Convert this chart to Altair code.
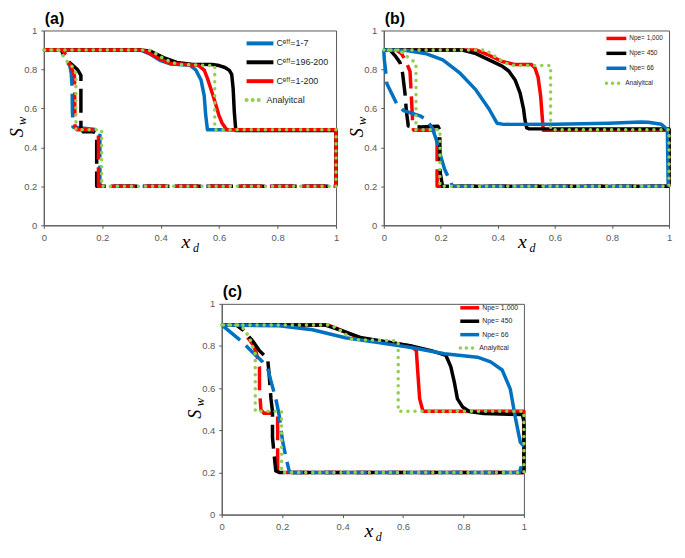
import altair as alt
import pandas as pd

# ---------------- colours ----------------
BLUE, BLACK, RED, GREEN = "#0070C0", "#000000", "#FF0000", "#92D050"

# ---------------- panel (a) ----------------
a_names = ["Cᵉᶠᶠ=1-7", "Cᵉᶠᶠ=196-200", "Cᵉᶠᶠ=1-200", "Analyitcal"]
a_colors = [BLUE, BLACK, RED, GREEN]

a_blue_solid_x = [0, 0.33, 0.366, 0.40, 0.435, 0.50, 0.52, 0.538, 0.549, 0.554, 0.56, 1.0, 1.0]
a_blue_solid_y = [0.9, 0.9, 0.877, 0.845, 0.828, 0.822, 0.798, 0.746, 0.664, 0.566, 0.49, 0.49, 0.2]
a_black_solid_x = [0, 0.33, 0.366, 0.41, 0.455, 0.51, 0.576, 0.60, 0.62, 0.635, 0.643, 0.648, 0.652, 0.657, 1.0, 1.0]
a_black_solid_y = [0.9, 0.9, 0.893, 0.861, 0.836, 0.826, 0.825, 0.82, 0.81, 0.795, 0.775, 0.70, 0.58, 0.487, 0.487, 0.2]
a_red_solid_x = [0, 0.34, 0.388, 0.432, 0.488, 0.53, 0.549, 0.56, 0.576, 0.588, 0.599, 0.61, 0.626, 1.0, 1.0]
a_red_solid_y = [0.9, 0.9, 0.861, 0.831, 0.825, 0.82, 0.797, 0.754, 0.68, 0.623, 0.566, 0.525, 0.49, 0.49, 0.2]

a_blue_dash_x = [0, 0.06, 0.077, 0.089, 0.094, 0.097, 0.098, 0.10, 0.13, 0.19, 0.192, 0.192, 1.0]
a_blue_dash_y = [0.9, 0.9, 0.844, 0.819, 0.778, 0.70, 0.58, 0.505, 0.50, 0.49, 0.48, 0.2, 0.2]
a_black_dash_x = [0, 0.06, 0.077, 0.10, 0.115, 0.127, 0.127, 0.135, 0.17, 0.181, 0.181, 1.0]
a_black_dash_y = [0.9, 0.9, 0.85, 0.82, 0.80, 0.77, 0.50, 0.48, 0.48, 0.47, 0.2, 0.2]
a_red_dash_x = [0, 0.06, 0.072, 0.083, 0.094, 0.105, 0.107, 0.115, 0.165, 0.187, 0.187, 1.0]
a_red_dash_y = [0.9, 0.9, 0.885, 0.844, 0.811, 0.77, 0.50, 0.49, 0.49, 0.48, 0.2, 0.2]

a_ana_x = [0, 0.36, 0.385, 0.41, 0.44, 0.47, 0.585, 0.585, 1.0, 1.0, 0.198, 0.198, 0.11, 0.11, 0.095, 0.077, 0.062, 0.05, 0]
a_ana_y = [0.9, 0.9, 0.88, 0.855, 0.835, 0.825, 0.82, 0.49, 0.49, 0.2, 0.2, 0.49, 0.49, 0.78, 0.82, 0.845, 0.88, 0.9, 0.9]

# ---------------- panel (b) ----------------
b_names = ["Npe= 1,000", "Npe= 450", "Npe= 66", "Analyitcal"]
b_colors = [RED, BLACK, BLUE, GREEN]

b_red_solid_x = [0, 0.323, 0.369, 0.415, 0.461, 0.518, 0.53, 0.541, 0.55, 0.555, 0.559, 1.0, 1.0]
b_red_solid_y = [0.9, 0.9, 0.873, 0.841, 0.825, 0.825, 0.808, 0.76, 0.662, 0.565, 0.488, 0.488, 0.2]
b_black_solid_x = [0, 0.276, 0.323, 0.369, 0.415, 0.438, 0.461, 0.478, 0.49, 0.495, 0.501, 0.51, 1.0, 1.0]
b_black_solid_y = [0.9, 0.9, 0.881, 0.849, 0.817, 0.792, 0.744, 0.679, 0.597, 0.541, 0.50, 0.495, 0.495, 0.2]
b_blue_solid_x = [0, 0.08, 0.15, 0.207, 0.265, 0.323, 0.369, 0.397, 0.42, 0.60, 0.789, 0.90, 0.927, 0.973, 0.994, 0.997]
b_blue_solid_y = [0.9, 0.897, 0.88, 0.849, 0.784, 0.695, 0.597, 0.524, 0.518, 0.519, 0.524, 0.53, 0.529, 0.519, 0.492, 0.2]

b_red_dash_x = [0, 0.046, 0.063, 0.08, 0.092, 0.098, 0.101, 0.104, 0.106, 0.15, 0.184, 0.187, 0.187, 1.0]
b_red_dash_y = [0.9, 0.898, 0.88, 0.833, 0.79, 0.63, 0.532, 0.49, 0.488, 0.488, 0.488, 0.47, 0.2, 0.2]
b_black_dash_x = [0, 0.023, 0.04, 0.057, 0.066, 0.075, 0.079, 0.086, 0.13, 0.19, 0.196, 0.198, 0.206, 1.0]
b_black_dash_y = [0.9, 0.898, 0.87, 0.835, 0.78, 0.67, 0.59, 0.51, 0.505, 0.508, 0.49, 0.27, 0.2, 0.2]
b_blue_dash_x = [0, 0.002, 0.006, 0.011, 0.03, 0.046, 0.069, 0.10, 0.13, 0.15, 0.17, 0.185, 0.20, 0.213, 0.236, 0.242, 1.0]
b_blue_dash_y = [0.9, 0.85, 0.80, 0.727, 0.67, 0.622, 0.589, 0.575, 0.56, 0.541, 0.50, 0.435, 0.354, 0.289, 0.216, 0.2, 0.2]

b_ana_x = [0, 0.357, 0.392, 0.426, 0.449, 0.585, 0.585, 1.0, 1.0, 0.197, 0.197, 0.113, 0.113, 0.098, 0.075, 0.057, 0]
b_ana_y = [0.9, 0.9, 0.865, 0.833, 0.821, 0.82, 0.49, 0.49, 0.2, 0.2, 0.49, 0.49, 0.833, 0.849, 0.873, 0.898, 0.9]

# ---------------- panel (c) ----------------
c_names = ["Npe= 1,000", "Npe= 450", "Npe= 66", "Analyitcal"]
c_colors = [RED, BLACK, BLUE, GREEN]

c_red_solid_x = [0, 0.35, 0.38, 0.463, 0.562, 0.627, 0.644, 0.649, 0.655, 0.666, 1.0, 1.0]
c_red_solid_y = [0.9, 0.9, 0.884, 0.835, 0.816, 0.80, 0.778, 0.671, 0.549, 0.49, 0.49, 0.2]
c_black_solid_x = [0, 0.34, 0.376, 0.463, 0.562, 0.627, 0.693, 0.742, 0.758, 0.77, 0.78, 0.797, 0.819, 0.868, 0.995, 1.0, 1.0]
c_black_solid_y = [0.9, 0.9, 0.884, 0.839, 0.816, 0.80, 0.778, 0.755, 0.702, 0.626, 0.549, 0.511, 0.489, 0.479, 0.475, 0.44, 0.2]
c_blue_solid_x = [0, 0.19, 0.30, 0.409, 0.518, 0.627, 0.737, 0.846, 0.89, 0.928, 0.955, 0.972, 0.988, 1.0]
c_blue_solid_y = [0.9, 0.896, 0.877, 0.839, 0.816, 0.793, 0.763, 0.747, 0.725, 0.686, 0.595, 0.458, 0.344, 0.324]

c_red_dash_x = [0, 0.048, 0.07, 0.086, 0.103, 0.114, 0.125, 0.125, 0.13, 0.14, 0.179, 0.185, 0.185, 1.0]
c_red_dash_y = [0.9, 0.9, 0.877, 0.839, 0.808, 0.77, 0.702, 0.588, 0.496, 0.481, 0.481, 0.47, 0.2, 0.2]
c_black_dash_x = [0, 0.048, 0.07, 0.103, 0.125, 0.152, 0.157, 0.163, 0.168, 0.168, 0.174, 0.179, 0.19, 1.0]
c_black_dash_y = [0.9, 0.9, 0.877, 0.823, 0.777, 0.74, 0.663, 0.549, 0.489, 0.367, 0.275, 0.207, 0.2, 0.2]
c_blue_dash_x = [0, 0.065, 0.092, 0.135, 0.152, 0.163, 0.179, 0.19, 0.201, 0.212, 0.223, 0.23, 0.985, 1.0]
c_blue_dash_y = [0.9, 0.823, 0.785, 0.725, 0.694, 0.633, 0.549, 0.473, 0.352, 0.275, 0.207, 0.2, 0.2, 0.27]

c_ana_x = [0, 0.36, 0.398, 0.431, 0.584, 0.584, 1.0, 1.0, 0.198, 0.198, 0.111, 0.111, 0.092, 0.075, 0.06, 0]
c_ana_y = [0.9, 0.9, 0.869, 0.831, 0.824, 0.49, 0.49, 0.2, 0.2, 0.49, 0.49, 0.763, 0.839, 0.877, 0.9, 0.9]

ticks = [0, 0.2, 0.4, 0.6, 0.8, 1]

LABEL_FONT = "Liberation Sans"
MATH_FONT = "Liberation Serif"
DASH = [24, 8]
DOT = [0.1, 7]
LW = 3.5


def to_df(name, xs, ys):
    return pd.DataFrame({"series": name, "i": list(range(len(xs))), "x": xs, "y": ys})


def panel(tag, names, colors, sims, ana, W, H, leg):
    xsc = alt.Scale(domain=[0, 1], nice=False, zero=False)
    ysc = alt.Scale(domain=[0, 1], nice=False, zero=False)
    xax = alt.Axis(values=ticks, format="~g", title=None, grid=False, labelFlush=False)
    yax = alt.Axis(values=ticks, format="~g", title=None, grid=False, labelFlush=False)

    def enc(ch, col):
        return ch.encode(
            x=alt.X("x:Q", scale=xsc, axis=xax),
            y=alt.Y("y:Q", scale=ysc, axis=yax),
            color=alt.value(col),
            order=alt.Order("i:Q"),
        )

    layers = []
    for (name, sx, sy, dx, dy), col in zip(sims, colors):
        layers.append(enc(alt.Chart(to_df(name, sx, sy)).mark_line(
            strokeWidth=LW, strokeJoin="round", strokeCap="butt", clip=False), col))
        layers.append(enc(alt.Chart(to_df(name, dx, dy)).mark_line(
            strokeWidth=LW, strokeJoin="round", strokeCap="butt", strokeDash=DASH, clip=False), col))
    layers.append(enc(alt.Chart(to_df(names[3], ana[0], ana[1])).mark_line(
        strokeWidth=LW, strokeCap="round", strokeDash=DOT, clip=False), colors[3]))

    one = alt.InlineData(values=[{"k": 0}])

    def txt(s, x, y, size, font, style="normal", angle=0, color="black", align="center", weight="normal"):
        return alt.Chart(one).mark_text(
            text=s, font=font, fontSize=size, fontStyle=style, angle=angle, color=color,
            align=align, baseline="middle", fontWeight=weight,
        ).encode(x=alt.value(x), y=alt.value(y))

    # panel tag
    layers.append(txt(tag, 1, -12, 16, LABEL_FONT, weight="bold", align="left"))
    # axis titles (S_w, x_d) with subscripts
    layers.append(txt("S", -26, H / 2 + 5, 18, MATH_FONT, "italic", 270))
    layers.append(txt("w", -22, H / 2 - 7, 13, MATH_FONT, "italic", 270))
    layers.append(txt("x", W / 2 - 4, H + 17, 20, MATH_FONT, "italic"))
    layers.append(txt("d", W / 2 + 6, H + 23, 12, MATH_FONT, "italic"))

    # manual legend
    lx, ly, dyy, fs, Ls, Ld, sw = leg
    for k, (nm, col) in enumerate(zip(names, colors)):
        yy = ly + k * dyy
        is_dot = k == 3
        L = Ld if is_dot else Ls
        kw = dict(strokeWidth=sw, strokeCap="round" if is_dot else "butt")
        if is_dot:
            kw["strokeDash"] = [0.1, 6]
        layers.append(alt.Chart(one).mark_rule(**kw).encode(
            x=alt.value(lx), x2=alt.value(lx + L), y=alt.value(yy), color=alt.value(col)))
        layers.append(txt(nm, lx + L + 3, yy, fs, LABEL_FONT, align="left", color="#262626"))

    return alt.layer(*layers).properties(width=W, height=H)


WA, HA = 294, 196
WB, HB = 287, 196
WC, HC = 304, 212

pa = panel("(a)", a_names, a_colors,
           [(a_names[0], a_blue_solid_x, a_blue_solid_y, a_blue_dash_x, a_blue_dash_y),
            (a_names[1], a_black_solid_x, a_black_solid_y, a_black_dash_x, a_black_dash_y),
            (a_names[2], a_red_solid_x, a_red_solid_y, a_red_dash_x, a_red_dash_y)],
           (a_ana_x, a_ana_y), WA, HA, (WA - 90, 13, 19, 9, 27, 17, 4))

pb = panel("(b)", b_names, b_colors,
           [(b_names[0], b_red_solid_x, b_red_solid_y, b_red_dash_x, b_red_dash_y),
            (b_names[1], b_black_solid_x, b_black_solid_y, b_black_dash_x, b_black_dash_y),
            (b_names[2], b_blue_solid_x, b_blue_solid_y, b_blue_dash_x, b_blue_dash_y)],
           (b_ana_x, b_ana_y), WB, HB, (WB - 63, 8, 15, 6.5, 20, 16, 3.5))

pc = panel("(c)", c_names, c_colors,
           [(c_names[0], c_red_solid_x, c_red_solid_y, c_red_dash_x, c_red_dash_y),
            (c_names[1], c_black_solid_x, c_black_solid_y, c_black_dash_x, c_black_dash_y),
            (c_names[2], c_blue_solid_x, c_blue_solid_y, c_blue_dash_x, c_blue_dash_y)],
           (c_ana_x, c_ana_y), WC, HC, (WC - 64, 4, 13.5, 7, 19, 16, 3.5))

spacer = alt.Chart(alt.InlineData(values=[{"k": 0}])).mark_text(text=" ", opacity=0).encode(
    x=alt.value(0), y=alt.value(0)
).properties(width=142, height=10, view=alt.ViewBackground(stroke="transparent"))

top = alt.hconcat(pa, pb, spacing=4)
bottom = alt.hconcat(spacer, pc, spacing=0)

chart = alt.vconcat(top, bottom, spacing=28).properties(padding=0).configure_view(
    stroke="#595959", strokeWidth=1
).configure_axis(
    labelFont=LABEL_FONT, labelFontSize=9.5, labelColor="#595959",
    domainColor="#595959", tickColor="#595959", tickSize=3, labelPadding=4,
)

chart.save("out.html", embed_options={"renderer": "svg", "actions": False})
